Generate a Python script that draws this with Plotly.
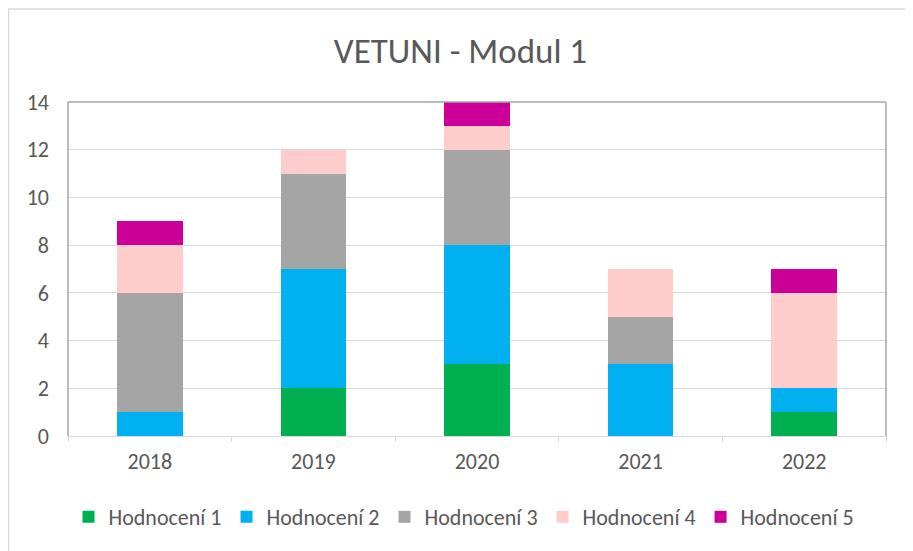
import plotly.graph_objects as go

years = ["2018", "2019", "2020", "2021", "2022"]
series_names = ["Hodnocení 1", "Hodnocení 2", "Hodnocení 3", "Hodnocení 4", "Hodnocení 5"]
h1 = [0, 2, 3, 0, 1]
h2 = [1, 5, 5, 3, 1]
h3 = [5, 4, 4, 2, 0]
h4 = [2, 1, 1, 2, 4]
h5 = [1, 0, 1, 0, 1]
values = [h1, h2, h3, h4, h5]
colors = ["#00b050", "#00b0f0", "#a5a5a5", "#ffcccc", "#cc0099"]

# page body has an 8px margin, so the figure is drawn 8px smaller
W, H = 905, 543
L, R, T, B = 60, 878, 94, 428

fig = go.Figure()
for name, vals, col in zip(series_names, values, colors):
    fig.add_trace(go.Bar(x=years, y=vals, name=name, marker=dict(color=col, line=dict(width=0))))

def px_x(p):
    return (p - L) / (R - L)

def px_y(p):
    return (B - p) / (B - T)

font_family = "Carlito, Calibri, Lato, sans-serif"
fig.update_layout(
    width=W, height=H,
    margin=dict(l=L, r=W - R, t=T, b=H - B),
    barmode="stack",
    bargap=0.6,
    paper_bgcolor="white",
    plot_bgcolor="white",
    font=dict(family=font_family, color="#595959", size=22),
    title=dict(text="VETUNI - Modul 1", x=0.5, xanchor="center", y=1 - 43 / H, yanchor="middle",
               font=dict(size=35, color="#595959", family=font_family)),
    legend=dict(orientation="h", x=px_x(456), xanchor="center", y=px_y(509), yanchor="middle",
                font=dict(size=22, color="#595959"), itemwidth=30, traceorder="normal"),
    xaxis=dict(showline=True, linecolor="#d9d9d9", linewidth=1, ticks="outside", tickson="boundaries",
               ticklen=5, tickcolor="#d9d9d9", tickfont=dict(size=22, color="#595959"), showgrid=False,
               ticklabelstandoff=6),
    yaxis=dict(range=[0, 14], dtick=2, showgrid=True, gridcolor="#d9d9d9", gridwidth=1,
               zeroline=False, showline=False, ticks="", ticklabelstandoff=18,
               tickfont=dict(size=22, color="#595959")),
    shapes=[
        dict(type="line", xref="paper", yref="paper", x0=0, x1=0, y0=0, y1=1, line=dict(color="#a6a6a6", width=1.5)),
        dict(type="line", xref="paper", yref="paper", x0=0, x1=1, y0=1, y1=1, line=dict(color="#a6a6a6", width=1.5)),
        dict(type="line", xref="paper", yref="paper", x0=1, x1=1, y0=0, y1=1, line=dict(color="#a6a6a6", width=1.5)),
        dict(type="rect", xref="paper", yref="paper", x0=px_x(0.5), x1=px_x(904), y0=px_y(560), y1=px_y(1),
             line=dict(color="#d9d9d9", width=1.5), layer="below"),
    ],
)

fig.write_html("out.html")
